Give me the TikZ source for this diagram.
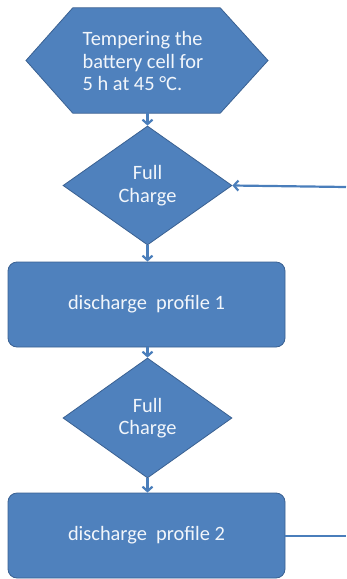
\documentclass[tikz,border=0pt]{standalone}
\usepackage{fontspec}
\setmainfont{Carlito}
\usetikzlibrary{shapes.geometric,arrows.meta}
\definecolor{boxfill}{HTML}{4F81BD}
\definecolor{boxline}{HTML}{3A6192}
\definecolor{arrowc}{HTML}{4A7EBB}
\definecolor{txt}{HTML}{F2F6FB}
\tikzset{
  every node/.style={font=\fontsize{20.4}{22.5}\selectfont, text=txt},
  procbox/.style={draw=boxline, line width=0.8pt, fill=boxfill, rounded corners=9pt,
    minimum width=277pt, minimum height=85pt, inner sep=0pt},
  decision/.style={diamond, draw=boxline, line width=0.8pt, fill=boxfill,
    minimum width=169pt, minimum height=119pt, inner sep=0pt, align=center},
  hexbody/.style={draw=boxline, line width=0.8pt, fill=boxfill},
  flow/.style={draw=arrowc, line width=2.2pt, -{Straight Barb[length=4.5pt,width=10pt,line width=2.2pt]}},
  plainline/.style={draw=arrowc, line width=2.2pt}
}
\begin{document}
\begin{tikzpicture}[x=1pt,y=-1pt]
\useasboundingbox (0,0) rectangle (346,579);
% hexagon
\node[minimum width=147pt, minimum height=105pt, inner sep=0pt] (hexc) at (146.5,60.5) {};
\path[hexbody] (hexc.north west) -- (hexc.north east) -- (268,60.5) -- (hexc.south east)
  -- (hexc.south west) -- (26,60.5) -- cycle;
\node[align=left, inner sep=0pt] (hex) at (143,61) {Tempering the\\battery cell for\\5 h at 45 °C.};
% shapes
\node[decision] (d1) at (147.5,185.5) {Full\\Charge};
\node[procbox] (r1) at (146.5,304.5) {discharge\ \ profile 1};
\node[decision, minimum height=120pt] (d2) at (147.5,418) {Full\\Charge};
\node[procbox] (r2) at (146.5,535.5) {discharge\ \ profile 2};
\coordinate (fbin) at (346,187);
\coordinate (fbout) at (346,536);
% connectors
\draw[flow] (hexc.south -| d1.north) -- (d1.north);
\draw[flow] (d1.south) -- (r1.north -| d1.south);
\draw[flow] (r1.south -| d2.north) -- (d2.north);
\draw[flow] (d2.south) -- (r2.north -| d2.south);
\draw[flow] (fbin) -- (d1.east);
\draw[plainline] (r2.east |- fbout) -- (fbout);
\end{tikzpicture}
\end{document}
